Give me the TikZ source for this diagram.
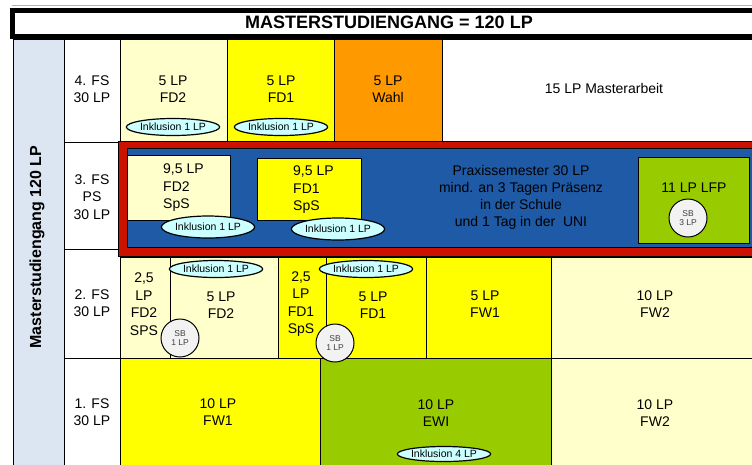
\documentclass[tikz,border=0pt]{standalone}
\usepackage{fontspec}
\setmainfont{Liberation Sans}
\usetikzlibrary{shapes.geometric}
\definecolor{hellgelb}{HTML}{FFFFCC}
\definecolor{gelb}{HTML}{FFFF00}
\definecolor{wahlorange}{HTML}{FF9900}
\definecolor{gruen}{HTML}{99CC00}
\definecolor{psblau}{HTML}{1F5AA6}
\definecolor{psrot}{HTML}{CC1100}
\definecolor{spalte}{HTML}{DCE6F2}
\definecolor{inklblau}{HTML}{CCFFFF}
\definecolor{sbgrau}{HTML}{F2F2F2}

\begin{document}
\begin{tikzpicture}
  [x=1pt,y=-1pt,
   feld/.style={draw=black,line width=1pt},
   txt/.style={align=center,inner sep=0pt,font=\fontsize{14}{17.5}\selectfont},
   inkl/.style={ellipse,draw=black,line width=1.2pt,fill=inklblau,inner sep=0pt,
     minimum width=92pt,minimum height=17pt,font=\fontsize{10.5}{11}\selectfont},
   sb/.style={circle,draw=black,line width=1pt,fill=sbgrau,minimum size=38pt,inner sep=0pt,
     align=center,text=black!75,font=\fontsize{8.5}{9.5}\selectfont}]
  \clip (0,0) rectangle (752,464);
  \fill[white] (0,0) rectangle (752,464);

  % Titel
  \draw[black!30,line width=.5pt] (12,5) -- (752,5);
  \draw[line width=5pt,fill=white] (12.5,10.5) rectangle (775,36);
  \node[font=\fontsize{18}{20}\selectfont\bfseries] (titel) at (389,22) {MASTERSTUDIENGANG = 120 LP};

  % linke Spalten
  \draw[feld,fill=spalte] (13,39) rectangle (64,470);
  \node[rotate=90,font=\fontsize{16}{18}\selectfont\bfseries] (studium) at (37,247) {Masterstudiengang 120 LP};
  \draw[feld,fill=white] (64,39) rectangle (120,470);
  \foreach \y in {142,249,358}
    \draw[feld] (64,\y) -- (120,\y);

  % Felder
  \foreach \xa/\xb/\farbe in {120/227/hellgelb,227/334/gelb,334/442/wahlorange,442/775/white}
    \draw[feld,fill=\farbe] (\xa,39) rectangle (\xb,142);
  \foreach \xa/\xb/\farbe in {120/170/hellgelb,170/278/hellgelb,278/326/gelb,326/426/gelb,426/551/gelb,551/775/hellgelb}
    \draw[feld,fill=\farbe] (\xa,257) rectangle (\xb,358);
  \foreach \xa/\xb/\farbe in {120/320/gelb,320/551/gruen,551/775/hellgelb}
    \draw[feld,fill=\farbe] (\xa,358) rectangle (\xb,470);

  % Praxissemester
  \draw[line width=.8pt,fill=psrot] (118,141) rectangle (775,256);
  \draw[line width=.8pt,fill=psblau] (127,148) rectangle (775,247);
  \draw[feld,fill=hellgelb] (127,155) rectangle (230,220);
  \draw[feld,fill=gelb] (257,158) rectangle (361,220);
  \draw[feld,fill=gruen] (638,157) rectangle (749,243);

  % 4. FS
  \node[txt] (fs4) at (92,89) {4. FS\\30 LP};
  \node[txt] (fd2a) at (173,89) {5 LP\\FD2};
  \node[txt] (fd1a) at (281,89) {5 LP\\FD1};
  \node[txt] (wahl) at (388,89) {5 LP\\Wahl};
  \node[txt] (master) at (604,88) {15 LP Masterarbeit};
  \node[inkl] (ink4a) at (173,127) {Inklusion 1 LP};
  \node[inkl] (ink4b) at (281,127) {Inklusion 1 LP};

  % 3. FS
  \node[txt] (fs3) at (92,197) {3. FS\\PS\\30 LP};
  \node[txt,align=left,anchor=west] (fd2ps) at (163,188) {9,5 LP\\FD2\\SpS};
  \node[txt,align=left,anchor=west] (fd1ps) at (293,190) {9,5 LP\\FD1\\SpS};
  \node[inkl,minimum height=22pt] (ink3a) at (208,227) {Inklusion 1 LP};
  \node[inkl,minimum height=22pt] (ink3b) at (338,229) {Inklusion 1 LP};
  \node[txt,font=\fontsize{14}{17}\selectfont] (praxis) at (521,197)
    {Praxissemester 30 LP\\mind. an 3 Tagen Präsenz\\in der Schule\\und 1 Tag in der~~UNI};
  \node[txt] (lfp) at (694,188) {11 LP LFP};
  \node[sb] (sb3) at (688,218) {SB\\3 LP};

  % 2. FS
  \node[txt] (fs2) at (92,303) {2. FS\\30 LP};
  \node[txt] (fd2b) at (144,304) {2,5\\LP\\FD2\\SPS};
  \node[txt] (fd2c) at (221,305) {5 LP\\FD2};
  \node[inkl] (ink2a) at (216,269) {Inklusion 1 LP};
  \node[sb] (sb2a) at (180,338) {SB\\1 LP};
  \node[txt] (fd1b) at (301,304) {2,5\\LP\\FD1\\SpS};
  \node[txt] (fd1c) at (373,305) {5 LP\\FD1};
  \node[inkl] (ink2b) at (366,269) {Inklusion 1 LP};
  \node[sb] (sb2b) at (335,343) {SB\\1 LP};
  \node[txt] (fw1a) at (485,304) {5 LP\\FW1};
  \node[txt] (fw2a) at (655,304) {10 LP\\FW2};

  % 1. FS
  \node[txt] (fs1) at (92,412) {1. FS\\30 LP};
  \node[txt] (fw1b) at (218,412) {10 LP\\FW1};
  \node[txt] (ewi) at (436,413) {10 LP\\EWI};
  \node[inkl,minimum height=15pt] (ink1) at (444,454) {Inklusion 4 LP};
  \node[txt] (fw2b) at (655,413) {10 LP\\FW2};
\end{tikzpicture}
\end{document}
